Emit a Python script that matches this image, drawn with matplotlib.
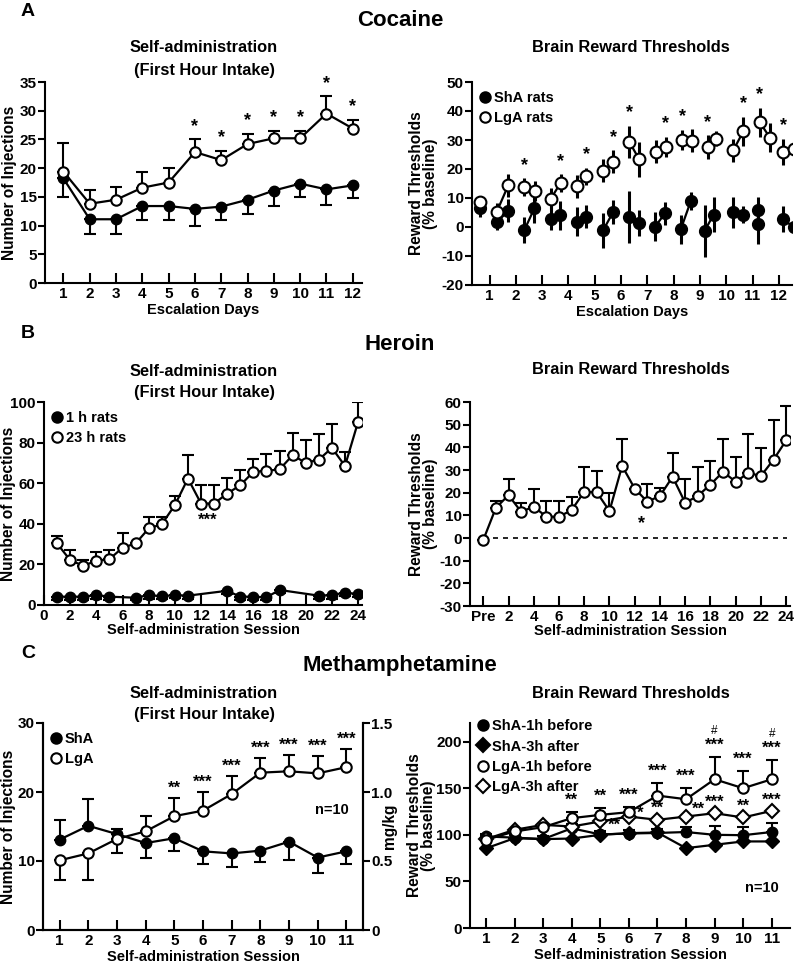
import matplotlib
matplotlib.use('Agg')
import matplotlib.pyplot as plt
from matplotlib.lines import Line2D

plt.rcParams['font.family'] = ['Liberation Sans', 'DejaVu Sans']
plt.rcParams['font.weight'] = 'bold'
plt.rcParams['axes.labelweight'] = 'bold'
plt.rcParams['font.size'] = 10
plt.rcParams['axes.linewidth'] = 1.5
plt.rcParams['axes.unicode_minus'] = False

# ---- A: cocaine, self-administration ----
coc_days = list(range(1, 13))
coc_lga = [19.4, 13.8, 14.5, 16.6, 17.5, 22.8, 21.4, 24.2, 25.2, 25.2, 29.5, 26.9]
coc_lga_err = [4.9, 2.4, 2.3, 2.8, 2.6, 2.2, 1.6, 1.7, 1.3, 1.3, 3.0, 1.5]
coc_sha = [18.2, 11.1, 11.1, 13.4, 13.4, 12.9, 13.3, 14.5, 16.1, 17.3, 16.3, 17.0]
coc_sha_err = [3.2, 2.5, 2.5, 2.4, 2.4, 2.9, 2.4, 2.5, 2.7, 2.4, 2.7, 2.2]
coc_star_days = [6, 7, 8, 9, 10, 11, 12]

# ---- A: cocaine, brain reward thresholds (two tests per day) ----
brt_lga_x = [0.64, 1.27, 1.71, 2.32, 2.71, 3.33, 3.70, 4.32, 4.68, 5.32, 5.70, 6.31, 6.69,
             7.31, 7.69, 8.33, 8.69, 9.30, 9.62, 10.27, 10.65, 11.27, 11.66, 12.17, 12.57]
brt_lga = [8.7, 5.2, 14.4, 13.8, 12.5, 9.8, 15.2, 14.1, 17.5, 19.4, 22.5, 29.4, 23.3,
           25.9, 27.6, 30.1, 29.7, 27.6, 30.5, 26.5, 33.0, 36.2, 30.8, 25.9, 27.0]
brt_lga_err = [2, 3, 4, 3, 3.5, 3.5, 3, 4, 3, 4, 4, 5.5, 6,
               4, 3.5, 3.5, 4, 4, 2.5, 4, 5, 5, 5, 4.5, 3]
brt_sha_x = [0.64, 1.29, 1.71, 2.32, 2.70, 3.33, 3.68, 4.32, 4.67, 5.32, 5.70, 6.31, 6.69,
             7.29, 7.67, 8.27, 8.65, 9.18, 9.52, 10.26, 10.64, 11.22, 11.22, 12.16, 12.57]
brt_sha = [6.4, 1.8, 5.6, -1.1, 6.4, 2.9, 4.1, 1.8, 3.5, -1.1, 5.2, 3.5, 1.5,
           0.1, 4.7, -0.8, 8.9, -1.3, 4.3, 5.0, 4.3, 5.8, 1.0, 2.7, -0.1]
brt_sha_err = [3, 3, 4, 4.5, 5, 4, 5, 5, 4, 6, 4, 9, 4.5,
               5, 4, 5, 3, 9, 6, 5.5, 3, 4.5, 7, 4.5, 5.5]
brt_star_idx = [3, 6, 8, 10, 11, 14, 15, 17, 20, 21, 23]

# ---- B: heroin, self-administration ----
her_23h_sess = list(range(1, 25))
her_23h = [30.3, 22.1, 19.3, 21.8, 22.6, 28.2, 30.3, 37.7, 39.8, 49.2, 62.3, 50.0,
           50.0, 54.9, 59.0, 65.6, 66.1, 66.8, 73.8, 70.0, 71.6, 77.4, 68.5, 90.2]
her_23h_err = [3.6, 4.9, 2.7, 4.2, 4.4, 7.4, 0, 5.7, 3.6, 4.6, 11.8, 9.0,
               9.0, 7.9, 7.7, 6.5, 8.5, 9.0, 11.0, 11.5, 12.8, 11.6, 6.7, 10.0]
her_1h_sess = [1, 2, 3, 4, 5, 7, 8, 9, 10, 11, 14, 15, 16, 17, 18, 21, 22, 23, 24]
her_1h = [4.1, 4.1, 4.1, 4.9, 4.1, 3.6, 4.9, 4.3, 4.9, 4.6, 7.0, 4.1, 4.1, 3.8, 7.4,
          4.6, 4.9, 6.1, 5.4]
her_1h_err = [1.5, 1.8, 1.5, 1.8, 1.5, 1.2, 1.8, 1.5, 1.5, 1.5, 1.5, 1.5, 1.8, 1.5,
              1.5, 1.5, 1.8, 1.5, 1.5]

# ---- B: heroin, brain reward thresholds ----
her_brt_sess = list(range(0, 25))
her_brt = [-0.9, 13.3, 18.9, 11.6, 13.8, 9.4, 9.4, 12.3, 20.4, 20.1, 11.9, 31.8, 21.8,
           16.0, 18.6, 27.0, 15.5, 18.6, 23.6, 29.2, 24.8, 28.7, 27.4, 34.6, 43.1]
her_brt_err = [0, 3.0, 7.0, 4.0, 7.6, 7.0, 7.0, 5.6, 11.0, 9.4, 7.8, 12.0, 0,
               8.0, 3.3, 10.7, 10.4, 12.8, 10.4, 14.6, 11.0, 17.3, 12.1, 17.4, 15.1]
her_brt_ticks = [0, 2, 4, 6, 8, 10, 12, 14, 16, 18, 20, 22, 24]
her_brt_ticklabels = ['Pre', '2', '4', '6', '8', '10', '12', '14', '16', '18', '20', '22', '24']

# ---- C: methamphetamine, self-administration ----
meth_sess = list(range(1, 12))
meth_sha = [13.1, 15.1, 13.9, 12.6, 13.3, 11.4, 11.1, 11.5, 12.8, 10.5, 11.4]
meth_sha_up = [2.9, 3.9, 0.8, 0, 0, 0, 0, 0, 0, 0, 0]
meth_sha_dn = [0, 0, 0, 2.2, 1.8, 1.8, 1.9, 1.7, 2.7, 2.2, 1.8]
meth_lga = [10.1, 11.1, 13.2, 14.3, 16.5, 17.3, 19.7, 22.8, 23.0, 22.7, 23.6]
meth_lga_up = [0, 0, 0, 2.2, 2.6, 2.7, 2.6, 2.1, 2.4, 2.5, 2.7]
meth_lga_dn = [2.8, 3.8, 2.1, 0, 0, 0, 0, 0, 0, 0, 0]
meth_star_sess = [5, 6, 7, 8, 9, 10, 11]
meth_star_lbl = ['**', '***', '***', '***', '***', '***', '***']

# ---- C: methamphetamine, brain reward thresholds ----
mbrt_sha_1h = [98.2, 97.0, 95.4, 107.0, 100.4, 101.4, 102.0, 103.0, 100.0, 99.6, 103.0]
mbrt_sha_1h_err = [3, 3, 3, 5, 4, 4, 4, 5, 10, 9, 10]
mbrt_sha_3h = [85.5, 96.4, 95.4, 96.0, 100.0, 101.8, 102.5, 85.7, 89.3, 92.9, 92.9]
mbrt_lga_1h = [94.6, 103.6, 108.2, 117.9, 121.4, 124.3, 142.1, 138.2, 159.6, 150.0, 159.6]
mbrt_lga_1h_err = [3, 3, 3, 7, 7, 6, 14, 12, 23.6, 18.6, 20.8]
mbrt_lga_3h = [95.4, 105.4, 110.7, 108.9, 114.3, 119.6, 116.1, 119.6, 123.2, 118.6, 125.7]
mbrt_star_sess = [4, 5, 6, 7, 8, 9, 10, 11]
mbrt_star_lbl = ['**', '**', '***', '***', '***', '***', '***', '***']
mbrt_hash_sess = [9, 11]
mbrt_star2_x = [5.5, 6.4, 7, 8.45, 9, 10, 11]
mbrt_star2_y = [110, 123, 129, 127, 135, 131, 137]
mbrt_star2_lbl = ['**', '*', '**', '**', '***', '**', '***']

W, H = 800, 965
fig = plt.figure(figsize=(8, 9.65), dpi=100)


def rect(x0, y0, x1, y1):
    return [x0 / W, 1 - y1 / H, (x1 - x0) / W, (y1 - y0) / H]


def ftext(x, y, s, **kw):
    fig.text(x / W, 1 - y / H, s, ha='center', va='center', **kw)


def style(ax, keep_right=False):
    ax.spines['top'].set_visible(False)
    if not keep_right:
        ax.spines['right'].set_visible(False)
    ax.tick_params(axis='y', direction='out', length=5, width=1.5, labelsize=11, pad=1)
    ax.tick_params(axis='x', direction='in', length=7, width=1.5, labelsize=11, pad=3)


def ylabel_at(ax, text, px, x0, x1):
    # px: right edge of the rotated label, in figure pixels
    ax.set_ylabel(text, fontsize=11.2, linespacing=0.95)
    ax.yaxis.set_label_coords((px - x0) / (x1 - x0), 0.5)


LW = 1.6
MS = 7.5
filled = dict(color='k', marker='o', markersize=MS, markerfacecolor='k',
              markeredgecolor='k', linewidth=LW, zorder=3)
opened = dict(color='k', marker='o', markersize=MS, markerfacecolor='white',
              markeredgecolor='k', markeredgewidth=1.5, linewidth=LW, zorder=4)
ebar = dict(fmt='none', ecolor='k', elinewidth=1.5, capsize=4, capthick=1.5, zorder=2)


def legend(ax, labels, markers, fills, top=1.0):
    handles = [Line2D([], [], linestyle='none', marker=m, markersize=MS,
                      markerfacecolor=f, markeredgecolor='k', markeredgewidth=1.5)
               for m, f in zip(markers, fills)]
    ax.legend(handles, labels, loc='upper left', bbox_to_anchor=(0.0, top), frameon=False,
              handlelength=0.6, handletextpad=0.3, labelspacing=0.42, borderaxespad=0.2,
              prop={'size': 10.5, 'weight': 'bold'})


# headings
ftext(28, 12, 'A', fontsize=14)
ftext(400, 21, 'Cocaine', fontsize=16)
ftext(28, 333, 'B', fontsize=14)
ftext(400, 345, 'Heroin', fontsize=16)
ftext(28, 654, 'C', fontsize=14)
ftext(400, 665, 'Methamphetamine', fontsize=16)

for y1, y2, yr in [(48, 71, 48), (372, 393, 370), (693, 714, 693)]:
    ftext(204, y1, 'Self-administration', fontsize=11.8)
    ftext(204, y2, '(First Hour Intake)', fontsize=11.8)
    ftext(631, yr, 'Brain Reward Thresholds', fontsize=11.8)

# ---- panel A left ----
ax = fig.add_axes(rect(45, 82, 362, 283))
style(ax)
ax.errorbar(coc_days, coc_lga, yerr=[[0] * 12, coc_lga_err], **ebar)
ax.errorbar(coc_days, coc_sha, yerr=[coc_sha_err, [0] * 12], **ebar)
ax.plot(coc_days, coc_sha, **filled)
ax.plot(coc_days, coc_lga, **opened)
for d in coc_star_days:
    i = d - 1
    ax.text(d, coc_lga[i] + coc_lga_err[i] + 2.3, '*', ha='center', va='center', fontsize=13)
ax.set_xlim(0.3, 12.35)
ax.set_ylim(0, 35)
ax.set_xticks(coc_days)
ax.set_yticks(range(0, 36, 5))
ax.set_xlabel('Escalation Days', fontsize=10.5, labelpad=1)
ylabel_at(ax, 'Number of Injections', 17, 45, 362)

# ---- panel A right ----
ax = fig.add_axes(rect(472, 82, 792, 285))
style(ax)
cbar = dict(fmt='none', ecolor='k', elinewidth=2.2, capsize=0, zorder=2)
ax.errorbar(brt_sha_x, brt_sha, yerr=brt_sha_err, **cbar)
ax.errorbar(brt_lga_x, brt_lga, yerr=brt_lga_err, **cbar)
ax.plot(brt_sha_x[:1], brt_sha[:1], **dict(filled, markersize=8.5))
ax.plot(brt_lga_x[:1], brt_lga[:1], **dict(opened, markersize=8.5))
for i in range(1, len(brt_lga_x), 2):
    ax.plot(brt_sha_x[i:i + 2], brt_sha[i:i + 2], **dict(filled, markersize=8.5))
    ax.plot(brt_lga_x[i:i + 2], brt_lga[i:i + 2], **dict(opened, markersize=8.5))
for i in brt_star_idx:
    ax.text(brt_lga_x[i], brt_lga[i] + brt_lga_err[i] + 4.5, '*', ha='center', va='center',
            fontsize=13)
ax.set_xlim(0.33, 12.5)
ax.set_ylim(-20, 50)
ax.set_xticks(coc_days)
ax.set_yticks(range(-20, 51, 10))
ax.set_xlabel('Escalation Days', fontsize=10.5, labelpad=1)
ylabel_at(ax, 'Reward Thresholds\n(% baseline)', 438, 472, 792)
legend(ax, ['ShA rats', 'LgA rats'], ['o', 'o'], ['k', 'white'])

# ---- panel B left ----
ax = fig.add_axes(rect(44, 402, 362, 605))
style(ax)
ax.errorbar(her_23h_sess, her_23h, yerr=[[0] * 24, her_23h_err], **ebar)
ax.errorbar(her_1h_sess, her_1h, yerr=[her_1h_err, [0] * len(her_1h_err)], **ebar)
ax.plot(her_1h_sess, her_1h, **filled)
ax.plot(her_23h_sess, her_23h, **opened)
ax.text(12.5, 41.5, '***', ha='center', va='center', fontsize=12)
ax.set_xlim(0, 24.3)
ax.set_ylim(0, 100)
ax.set_xticks(range(0, 25, 2))
ax.set_yticks(range(0, 101, 20))
ax.set_xlabel('Self-administration Session', fontsize=10.5, labelpad=0)
ylabel_at(ax, 'Number of Injections', 16, 44, 362)
legend(ax, ['1 h rats', '23 h rats'], ['o', 'o'], ['k', 'white'])

# ---- panel B right ----
ax = fig.add_axes(rect(470, 402, 790, 606))
style(ax)
ax.axhline(0, xmin=0.04, xmax=0.99, color='k', linestyle=(0, (3, 3)), linewidth=1.2)
ax.errorbar(her_brt_sess, her_brt, yerr=[[0] * 25, her_brt_err], **ebar)
ax.plot(her_brt_sess, her_brt, **opened)
ax.text(12.5, 6.4, '*', ha='center', va='center', fontsize=13)
ax.set_xlim(-1.05, 24.3)
ax.set_ylim(-30, 60)
ax.set_xticks(her_brt_ticks)
ax.set_xticklabels(her_brt_ticklabels)
ax.set_yticks(range(-30, 61, 10))
ax.set_xlabel('Self-administration Session', fontsize=10.5, labelpad=0)
ylabel_at(ax, 'Reward Thresholds\n(% baseline)', 438, 470, 790)

# ---- panel C left ----
ax = fig.add_axes(rect(43, 723, 363, 930))
style(ax, keep_right=True)
ax.errorbar(meth_sess, meth_sha, yerr=[meth_sha_dn, meth_sha_up], **ebar)
ax.errorbar(meth_sess, meth_lga, yerr=[meth_lga_dn, meth_lga_up], **ebar)
ax.plot(meth_sess, meth_sha, **filled)
ax.plot(meth_sess, meth_lga, **opened)
for s, lbl in zip(meth_star_sess, meth_star_lbl):
    i = s - 1
    ax.text(s, meth_lga[i] + meth_lga_up[i] + 1.4, lbl, ha='center', va='center', fontsize=12)
ax.text(10.5, 17.4, 'n=10', ha='center', va='center', fontsize=10.5)
ax.set_xlim(0.42, 11.58)
ax.set_ylim(0, 30)
ax.set_xticks(meth_sess)
ax.set_yticks([0, 10, 20, 30])
ax.set_xlabel('Self-administration Session', fontsize=10.5, labelpad=1)
ylabel_at(ax, 'Number of Injections', 16, 43, 363)
legend(ax, ['ShA', 'LgA'], ['o', 'o'], ['k', 'white'])
ax2 = ax.twinx()
ax2.spines['top'].set_visible(False)
ax2.set_ylim(0, 1.5)
ax2.set_yticks([0, 0.5, 1.0, 1.5])
ax2.set_yticklabels(['0', '0.5', '1.0', '1.5'])
ax2.tick_params(axis='y', direction='out', length=5, width=1.5, labelsize=11, pad=1)
ax2.set_ylabel('mg/kg', fontsize=11.2)
ax2.yaxis.set_label_coords((382 - 43) / 320, 0.5)

# ---- panel C right ----
ax = fig.add_axes(rect(470, 723, 790, 928))
style(ax)
ax.errorbar(meth_sess, mbrt_lga_1h, yerr=[[0] * 11, mbrt_lga_1h_err], **ebar)
ax.errorbar(meth_sess, mbrt_sha_1h, yerr=[[0] * 11, mbrt_sha_1h_err], **ebar)
ax.plot(meth_sess, mbrt_sha_3h, **dict(filled, marker='D', markersize=7))
ax.plot(meth_sess, mbrt_sha_1h, **filled)
ax.plot(meth_sess, mbrt_lga_3h, **dict(opened, marker='D', markersize=7))
ax.plot(meth_sess, mbrt_lga_1h, **opened)
for s, lbl in zip(mbrt_star_sess, mbrt_star_lbl):
    i = s - 1
    ax.text(s, mbrt_lga_1h[i] + mbrt_lga_1h_err[i] + 12.5, lbl, ha='center', va='center',
            fontsize=12)
for s in mbrt_hash_sess:
    i = s - 1
    ax.text(s, mbrt_lga_1h[i] + mbrt_lga_1h_err[i] + 28, '#', ha='center', va='center',
            fontsize=8.5, fontweight='normal')
for x, y, lbl in zip(mbrt_star2_x, mbrt_star2_y, mbrt_star2_lbl):
    ax.text(x, y, lbl, ha='center', va='center', fontsize=12)
ax.text(10.66, 43, 'n=10', ha='center', va='center', fontsize=10.5)
ax.set_xlim(0.44, 11.64)
ax.set_ylim(0, 220)
ax.set_xticks(meth_sess)
ax.set_yticks(range(0, 201, 50))
ax.set_xlabel('Self-administration Session', fontsize=10.5, labelpad=1)
ylabel_at(ax, 'Reward Thresholds\n(% baseline)', 436, 470, 790)
legend(ax, ['ShA-1h before', 'ShA-3h after', 'LgA-1h before', 'LgA-3h after'],
       ['o', 'D', 'o', 'D'], ['k', 'k', 'white', 'white'], top=1.06)

fig.savefig('out.png', dpi=100)
